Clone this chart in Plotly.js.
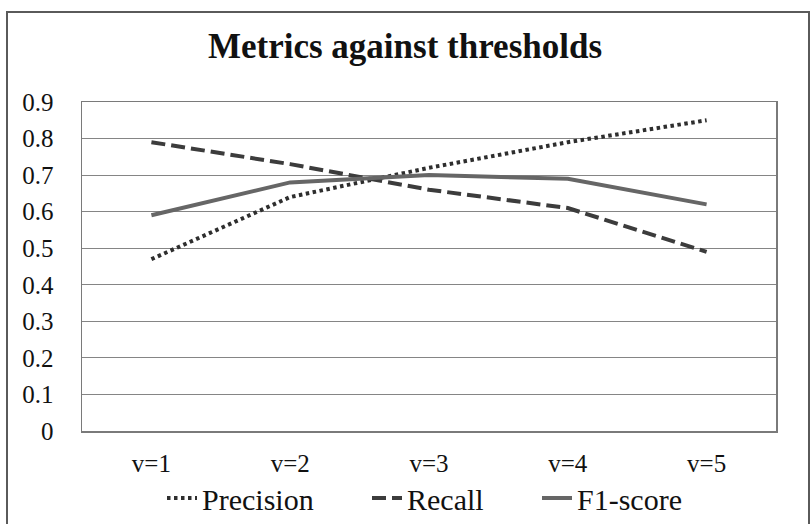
<!DOCTYPE html>
<html>
<head>
<meta charset="utf-8">
<script src="https://cdn.plot.ly/plotly-3.0.1.min.js"></script>
<style>
  html, body { margin: 0; padding: 0; background: #fff; }
  #wrap { position: relative; width: 810px; height: 524px; overflow: hidden; }
  #chart { width: 810px; height: 524px; }
  #frame { position: absolute; left: 6px; top: 11px; width: 800px; height: 600px;
           border: 2px solid #5a5a5a; pointer-events: none; }
</style>
</head>
<body>
<div id="wrap">
  <div id="chart"></div>
  <div id="frame"></div>
</div>
<script>
const categories = ["v=1", "v=2", "v=3", "v=4", "v=5"];
const precision = [0.47, 0.64, 0.72, 0.79, 0.85];
const recall = [0.79, 0.73, 0.66, 0.61, 0.49];
const f1score = [0.59, 0.68, 0.70, 0.69, 0.62];
const seriesNames = ["Precision", "Recall", "F1-score"];
const yTicks = [0, 0.1, 0.2, 0.3, 0.4, 0.5, 0.6, 0.7, 0.8, 0.9];

const FONT = "Liberation Serif";

const traces = [
  { x: categories, y: precision, name: seriesNames[0], type: "scatter", mode: "lines",
    line: { color: "#2e2e2e", width: 4, dash: "3.5px,3.5px" }, legend: "legend" },
  { x: categories, y: recall, name: seriesNames[1], type: "scatter", mode: "lines",
    line: { color: "#3c3c3c", width: 4, dash: "14px,6px" }, legend: "legend2" },
  { x: categories, y: f1score, name: seriesNames[2], type: "scatter", mode: "lines",
    line: { color: "#666666", width: 4 }, legend: "legend3" }
];

const legendBase = {
  orientation: "h", xref: "container", yref: "container",
  yanchor: "middle", xanchor: "left", y: 1 - 498 / 524,
  font: { family: FONT, size: 30, color: "#111" }, bgcolor: "rgba(0,0,0,0)",
  itemwidth: 30
};

const layout = {
  width: 810, height: 524,
  margin: { l: 82, r: 34, t: 102, b: 93 },
  paper_bgcolor: "#fff", plot_bgcolor: "#fff",
  title: { text: "<b>Metrics against thresholds</b>", x: 0.5, xanchor: "center",
           xref: "container", yref: "container", y: 1 - 46 / 524, yanchor: "middle",
           font: { family: FONT, size: 35, color: "#111" } },
  xaxis: { type: "category", tickvals: categories, ticktext: categories,
           range: [-0.5, 4.5], showgrid: false, showline: true, mirror: true,
           linecolor: "#7a7a7a", linewidth: 1.5, ticks: "", zeroline: false,
           ticklabelstandoff: 9,
           tickfont: { family: FONT, size: 25, color: "#111" } },
  yaxis: { range: [0, 0.9], tickvals: yTicks, ticktext: yTicks.map(String),
           showgrid: true, gridcolor: "#858585", gridwidth: 1,
           showline: true, mirror: true, linecolor: "#7a7a7a", linewidth: 1.5,
           ticks: "", zeroline: false, ticklabelstandoff: 22,
           tickfont: { family: FONT, size: 25, color: "#111" } },
  showlegend: true,
  legend: Object.assign({}, legendBase, { x: 162 / 810 }),
  legend2: Object.assign({}, legendBase, { x: 367 / 810 }),
  legend3: Object.assign({}, legendBase, { x: 537 / 810 })
};

Plotly.newPlot("chart", traces, layout, { displayModeBar: false, staticPlot: true });
</script>
</body>
</html>
